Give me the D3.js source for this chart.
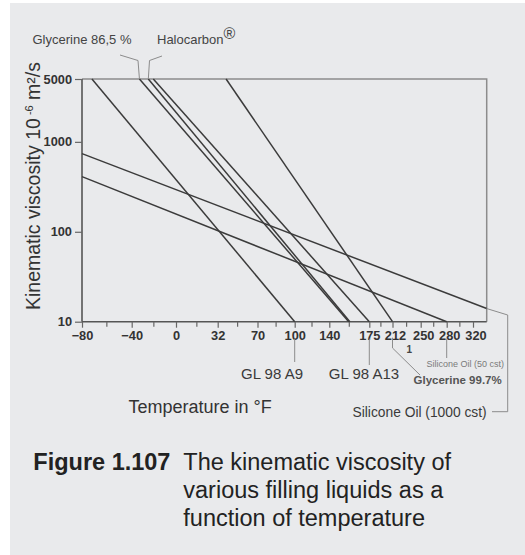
<!DOCTYPE html>
<html>
<head>
<meta charset="utf-8">
<script src="https://cdn.jsdelivr.net/npm/d3@7"></script>
<style>
  html, body { margin: 0; padding: 0; background: #ffffff; }
  svg { display: block; font-family: "Liberation Sans", Arial, Helvetica, sans-serif; }
</style>
</head>
<body>
<svg id="chart" width="525" height="555"></svg>
<script>
// ---------------- DATA ----------------
const xTicks = [-80, -40, 0, 32, 70, 100, 140, 175, 212, 250, 280, 320];
const xEnd = 335;                       // right border of the plot (°F)
const yTicks = [10, 100, 1000, 5000];

const liquids    = ["GL 98 A9", "Glycerine 86,5 %", "Halocarbon®", "GL 98 A13", "Glycerine 99.7%", "Silicone Oil (50 cst)", "Silicone Oil (1000 cst)"];
const startTemp  = [-72, -33, -25, -20.5, 40, -80, -80];
const startVisc  = [5000, 5000, 5000, 5000, 5000, 410, 740];
const endTemp    = [100, 157, 158, 175, 212, 280, 335];
const endVisc    = [10, 10, 10, 10, 10, 10, 14];

// ---------------- LAYOUT ----------------
const svg = d3.select("#chart");
const W = 525, H = 555;
const pLeft = 82, pTop = 79, pBottom = 321.7;
// pixel offsets of the (hand-drawn, non uniform) temperature ticks from the left axis
const xTickOffsets = [0, 49.7, 94, 135.7, 175.5, 212.7, 247.3, 287.3, 310.5, 338.7, 364.7, 391, 404.7];

const x = d3.scaleLinear()
  .domain(xTicks.concat([xEnd]))
  .range(xTickOffsets.map(o => pLeft + o));
const y = d3.scaleLog().domain([10, 5000]).range([pBottom, pTop]);

const ink = "#3b3b3b";
const grayLine = "#8c8c8c";

// background panel
svg.append("rect").attr("x", 10).attr("y", 3).attr("width", W - 10).attr("height", H - 3).attr("fill", "#e9eaec");

// top / right frame
svg.append("path")
  .attr("d", `M${pLeft},${y(5000)}H${x(xEnd)}V${y(10)}`)
  .attr("fill", "none").attr("stroke", grayLine).attr("stroke-width", 1.5);

// axes
const xAxis = svg.append("g").attr("transform", `translate(0,${pBottom})`)
  .call(d3.axisBottom(x).tickValues(xTicks).tickSize(6).tickSizeOuter(0).tickFormat(d3.format("d")));
const yAxis = svg.append("g").attr("transform", `translate(${pLeft},0)`)
  .call(d3.axisLeft(y).tickValues(yTicks).tickSize(7).tickSizeOuter(0).tickFormat(d3.format("d")));

[xAxis, yAxis].forEach(g => {
  g.select(".domain").attr("stroke", "#555").attr("stroke-width", 1.6);
  g.selectAll(".tick line").attr("stroke", "#666").attr("stroke-width", 1.2);
  g.selectAll(".tick text").attr("fill", "#333").attr("font-size", 12.8).attr("font-weight", "bold")
    .attr("font-family", "'Liberation Sans', Arial, sans-serif");
});
xAxis.select(".domain").attr("d", `M${pLeft},0H${x(xEnd)}`);
yAxis.select(".domain").attr("d", `M0,${y(10)}V${y(5000)}`);
yAxis.selectAll(".tick text").attr("x", -10);
xAxis.selectAll(".tick text").attr("dx", d => d >= 212 ? 2.5 : 0);

// minor ticks (midway between labelled ticks)
const minor = d3.pairs(xTicks).map(([a, b]) => (x(a) + x(b)) / 2);
svg.append("g").selectAll("line").data(minor).join("line")
  .attr("x1", d => d).attr("x2", d => d)
  .attr("y1", pBottom).attr("y2", pBottom + 5)
  .attr("stroke", "#666").attr("stroke-width", 1.2);

// viscosity lines
const line = d3.line().x(d => x(d[0])).y(d => y(d[1]));
svg.append("g").selectAll("path").data(liquids.map((n, i) => ({
    name: n, pts: [[startTemp[i], startVisc[i]], [endTemp[i], endVisc[i]]]
  }))).join("path")
  .attr("d", d => line(d.pts))
  .attr("fill", "none").attr("stroke", ink).attr("stroke-width", 1.5);

// ---------------- LABELS ----------------
const leader = (pts) => svg.append("path").attr("d", d3.line()(pts))
  .attr("fill", "none").attr("stroke", grayLine).attr("stroke-width", 1);

// top labels
svg.append("text").attr("x", 32.5).attr("y", 43.5).attr("font-size", 13).attr("fill", "#444")
  .text(liquids[1]);
leader([[120, 55], [138, 60.5], [x(startTemp[1]), y(5000)]]);

const halo = svg.append("text").attr("x", 157).attr("y", 43.5).attr("font-size", 13).attr("fill", "#444");
halo.append("tspan").text("Halocarbon");
halo.append("tspan").attr("dy", -5).attr("font-size", 16).text("®");
leader([[162, 56], [149.5, 60.5], [x(startTemp[2]), y(5000)]]);

// bottom labels
const baseY = pBottom + 9;
leader([[x(100), baseY + 8], [x(100), 362]]);
svg.append("text").attr("x", 241).attr("y", 379).attr("font-size", 15).attr("fill", "#3a3a3a").text(liquids[0]);

leader([[x(175), baseY + 8], [x(175), 365]]);
svg.append("text").attr("x", 364).attr("y", 378.5).attr("text-anchor", "middle").attr("font-size", 15).attr("fill", "#3a3a3a").text(liquids[3]);

leader([[x(212), baseY + 7], [x(212), 348], [420, 375]]);
svg.append("text").attr("x", 406.5).attr("y", 353).attr("font-size", 10).attr("font-weight", "bold").attr("fill", "#444").text("1");
svg.append("text").attr("x", 413.5).attr("y", 383.5).attr("font-size", 11.5).attr("font-weight", "bold").attr("fill", "#555").text(liquids[4]);

leader([[x(280), baseY + 8], [x(280), 358]]);
svg.append("text").attr("x", 426.5).attr("y", 366.5).attr("font-size", 9).attr("fill", "#7a7a7a").text(liquids[5]);

leader([[x(xEnd), y(endVisc[6])], [507.7, 315], [507.7, 411.7], [492, 411.7]]);
svg.append("text").attr("x", 352.5).attr("y", 416.5).attr("font-size", 13.8).attr("fill", "#3a3a3a").text(liquids[6]);

// axis titles
svg.append("text").attr("x", 128.5).attr("y", 412.5).attr("font-size", 18).attr("fill", "#333")
  .text("Temperature in  °F");

const yt = svg.append("text").attr("transform", "translate(39.5,310) rotate(-90)")
  .attr("font-size", 19.5).attr("fill", "#333");
yt.append("tspan").text("Kinematic viscosity 10");
yt.append("tspan").attr("dy", -7).attr("font-size", 11).text(" -6");
yt.append("tspan").attr("dy", 7).text("  m²/s");

// caption
const cap = svg.append("g").attr("fill", "#222").attr("font-size", 23.5);
cap.append("text").attr("x", 33.3).attr("y", 469.5).attr("font-weight", "bold").text("Figure 1.107");
["The kinematic viscosity of", "various filling liquids as a", "function of temperature"].forEach((t, i) => {
  cap.append("text").attr("x", 183.3).attr("y", 469.5 + i * 28.3).text(t);
});
</script>
</body>
</html>
